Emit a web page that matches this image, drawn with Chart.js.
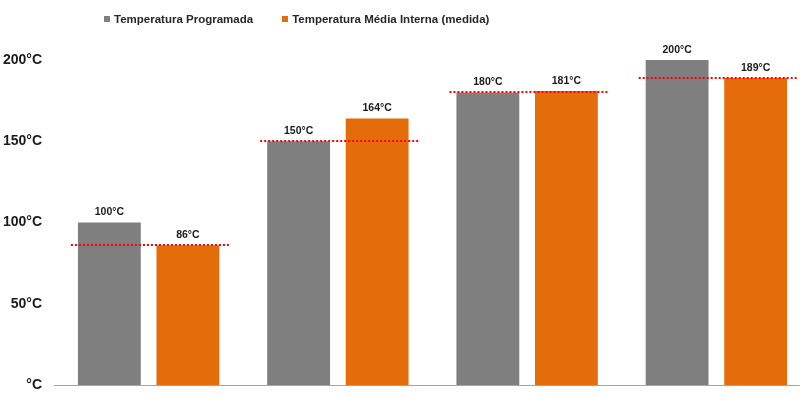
<!DOCTYPE html>
<html>
<head>
<meta charset="utf-8">
<script src="https://cdn.jsdelivr.net/npm/chart.js@4"></script>
<style>
  html, body { margin: 0; padding: 0; background: #fff; overflow: hidden; }
  #wrap { position: relative; width: 811px; height: 397px; }
  #legenda { position: absolute; left: 104px; top: 13px; font: bold 11.5px "Liberation Sans", Arial, sans-serif; color: #262626; white-space: nowrap; }
  #legenda span.item { display: inline-block; margin-right: 29px; }
  #legenda i { display: inline-block; width: 6px; height: 6px; margin-right: 4px; vertical-align: 1px; }
</style>
</head>
<body>
<div id="wrap">
  <canvas id="grafico" width="811" height="397"></canvas>
  <div id="legenda"></div>
</div>
<script>
const categorias = ['Ensaio 1', 'Ensaio 2', 'Ensaio 3', 'Ensaio 4'];
const programada = [100, 150, 180, 200];
const medida = [86, 164, 181, 189];
const referencia = [86, 150, 180, 189];
const ticksY = [0, 50, 100, 150, 200];

const series = [
  { label: 'Temperatura Programada', data: programada, cor: '#7f7f7f' },
  { label: 'Temperatura Média Interna (medida)', data: medida, cor: '#e46c0a' }
];

// legenda em html
let leg = document.getElementById('legenda');
for (let s of series) {
  let item = document.createElement('span');
  item.className = 'item';
  item.innerHTML = '<i style="background:' + s.cor + '"></i>' + s.label;
  leg.appendChild(item);
}

const marcas = {
  id: 'marcas',
  afterDatasetsDraw(chart) {
    let ctx = chart.ctx;
    let y = chart.scales.y;
    let g = chart.getDatasetMeta(0).data;
    let o = chart.getDatasetMeta(1).data;
    ctx.save();
    ctx.strokeStyle = '#ff0000';
    ctx.lineWidth = 2;
    ctx.setLineDash([2, 2]);
    referencia.forEach((v, i) => {
      let py = Math.round(y.getPixelForValue(v));
      let x0 = g[i].x - g[i].width / 2 - 7;
      let x1 = o[i].x + o[i].width / 2 + 11;
      ctx.beginPath();
      ctx.moveTo(x0, py);
      ctx.lineTo(x1, py);
      ctx.stroke();
    });
    ctx.setLineDash([]);
    ctx.font = 'bold 10.5px "Liberation Sans", Arial, sans-serif';
    ctx.fillStyle = '#1a1a1a';
    ctx.textAlign = 'center';
    ctx.textBaseline = 'middle';
    chart.data.datasets.forEach((ds, d) => {
      chart.getDatasetMeta(d).data.forEach((bar, i) => {
        ctx.fillText(ds.data[i] + '°C', bar.x, bar.y - 10);
      });
    });
    ctx.restore();
  }
};

new Chart(document.getElementById('grafico'), {
  type: 'bar',
  data: {
    labels: categorias,
    datasets: series.map(s => ({
      label: s.label,
      data: s.data,
      backgroundColor: s.cor,
      categoryPercentage: 0.83,
      barPercentage: 0.8
    }))
  },
  options: {
    responsive: false,
    animation: { duration: 0 },
    events: [],
    layout: { padding: { top: 27.5, bottom: 12, left: 0, right: 0 } },
    plugins: {
      legend: { display: false },
      tooltip: { enabled: false }
    },
    scales: {
      x: {
        grid: { display: false, drawTicks: false },
        ticks: { display: false },
        border: { display: true, color: '#a6a6a6', width: 1 },
        afterFit(scale) { scale.height = 0; }
      },
      y: {
        min: 0,
        max: 220,
        grid: { display: false, drawTicks: false },
        border: { display: false },
        afterFit(scale) {
          scale.width = 54;
          scale.paddingTop = 0;
          scale.paddingBottom = 0;
        },
        afterBuildTicks(scale) {
          scale.ticks = ticksY.map(v => ({ value: v }));
        },
        ticks: {
          padding: 12,
          color: '#1a1a1a',
          font: { family: '"Liberation Sans", Arial, sans-serif', size: 14, weight: 'bold' },
          callback: v => (v === 0 ? '' : v) + '°C'
        }
      }
    }
  },
  plugins: [marcas]
});
</script>
</body>
</html>
